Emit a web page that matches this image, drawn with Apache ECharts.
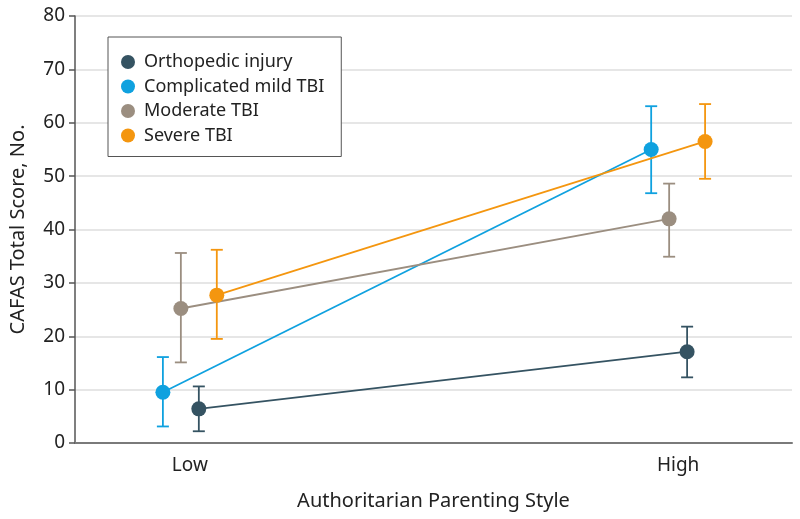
<!DOCTYPE html>
<html>
<head>
<meta charset="utf-8">
<script src="https://cdn.jsdelivr.net/npm/echarts@6/dist/echarts.min.js"></script>
<style>html,body{margin:0;padding:0;background:#fff}#c{width:800px;height:519px}</style>
</head>
<body>
<div id="c"></div>
<script>
// ---- data ----
var groups = ["Orthopedic injury", "Complicated mild TBI", "Moderate TBI", "Severe TBI"];
var styleLevels = ["Low", "High"];
var orthoMean = [6.4, 17.1];
var orthoLow = [2.2, 12.3];
var orthoHigh = [10.6, 21.8];
var complicatedMean = [9.5, 55.0];
var complicatedLow = [3.1, 46.8];
var complicatedHigh = [16.1, 63.1];
var moderateMean = [25.2, 42.0];
var moderateLow = [15.1, 34.9];
var moderateHigh = [35.6, 48.6];
var severeMean = [27.7, 56.5];
var severeLow = [19.5, 49.5];
var severeHigh = [36.2, 63.5];
var yTicks = [0, 10, 20, 30, 40, 50, 60, 70, 80];

// ---- style ----
var colors = ["#355362", "#0fa1df", "#9b8e80", "#f4960f"];
var dodge = [0.0184, -0.0552, -0.0184, 0.0552]; // horizontal dodge per group (layout)
var FONT = "Noto Sans";

var means = [orthoMean, complicatedMean, moderateMean, severeMean];
var lows = [orthoLow, complicatedLow, moderateLow, severeLow];
var highs = [orthoHigh, complicatedHigh, moderateHigh, severeHigh];

var series = [];
groups.forEach(function (g, gi) {
  var errData = styleLevels.map(function (lv, li) {
    return [li + 1 + dodge[gi], lows[gi][li], highs[gi][li]];
  });
  series.push({
    type: 'custom',
    name: g + ' CI',
    z: 1,
    silent: true,
    data: errData,
    renderItem: function (params, api) {
      var x = api.value(0);
      var lo = api.coord([x, api.value(1)]);
      var hi = api.coord([x, api.value(2)]);
      var cap = 6;
      var st = { stroke: colors[gi], lineWidth: 1.8 };
      return {
        type: 'group',
        children: [
          { type: 'line', shape: { x1: lo[0], y1: lo[1], x2: hi[0], y2: hi[1] }, style: st },
          { type: 'line', shape: { x1: lo[0] - cap, y1: lo[1], x2: lo[0] + cap, y2: lo[1] }, style: st },
          { type: 'line', shape: { x1: hi[0] - cap, y1: hi[1], x2: hi[0] + cap, y2: hi[1] }, style: st }
        ]
      };
    },
    encode: { x: 0, y: [1, 2] }
  });
});
groups.forEach(function (g, gi) {
  series.push({
    type: 'line',
    name: g,
    z: 3,
    data: styleLevels.map(function (lv, li) { return [li + 1 + dodge[gi], means[gi][li]]; }),
    symbol: 'circle',
    symbolSize: 15,
    showSymbol: true,
    lineStyle: { color: colors[gi], width: 1.8 },
    itemStyle: { color: colors[gi] },
    emphasis: { disabled: true },
    animation: false
  });
});

var chart = echarts.init(document.getElementById('c'), null, { renderer: 'canvas' });
chart.setOption({
  animation: false,
  backgroundColor: '#fff',
  textStyle: { fontFamily: FONT },
  color: colors,
  grid: { left: 74, right: 8, top: 16, bottom: 76, containLabel: false },
  legend: {
    data: groups,
    orient: 'vertical',
    left: 108,
    top: 37,
    padding: [16, 17, 12, 13],
    itemWidth: 18,
    itemHeight: 14,
    itemGap: 6.5,
    icon: 'circle',
    borderColor: '#555',
    borderWidth: 1,
    backgroundColor: '#fff',
    textStyle: { fontFamily: FONT, fontSize: 18, color: '#222', padding: [0, 0, 0, 2] }
  },
  xAxis: {
    type: 'value',
    min: 0.7648,
    max: 2.2332,
    name: 'Authoritarian Parenting Style',
    nameLocation: 'middle',
    nameGap: 48,
    nameTextStyle: { fontFamily: FONT, fontSize: 20, color: '#222' },
    axisLine: { show: true, onZero: false, lineStyle: { color: '#7a7a7a', width: 2 } },
    axisTick: { show: false },
    splitLine: { show: false },
    axisLabel: {
      customValues: [1, 2],
      margin: 13,
      fontFamily: FONT,
      fontSize: 19,
      color: '#222',
      formatter: function (v) { return styleLevels[Math.round(v) - 1] || ''; }
    }
  },
  yAxis: {
    type: 'value',
    min: yTicks[0],
    max: yTicks[yTicks.length - 1],
    interval: 10,
    name: 'CAFAS Total Score, No.',
    nameLocation: 'middle',
    nameGap: 47,
    nameTextStyle: { fontFamily: FONT, fontSize: 20, color: '#222' },
    axisLine: { show: true, lineStyle: { color: '#555', width: 1.5 } },
    axisTick: { show: true, length: 6, lineStyle: { color: '#555', width: 1.5 } },
    splitLine: { show: true, lineStyle: { color: '#dedede', width: 1.5 } },
    axisLabel: { margin: 10, fontFamily: FONT, fontSize: 19, color: '#222' }
  },
  series: series
});
</script>
</body>
</html>
